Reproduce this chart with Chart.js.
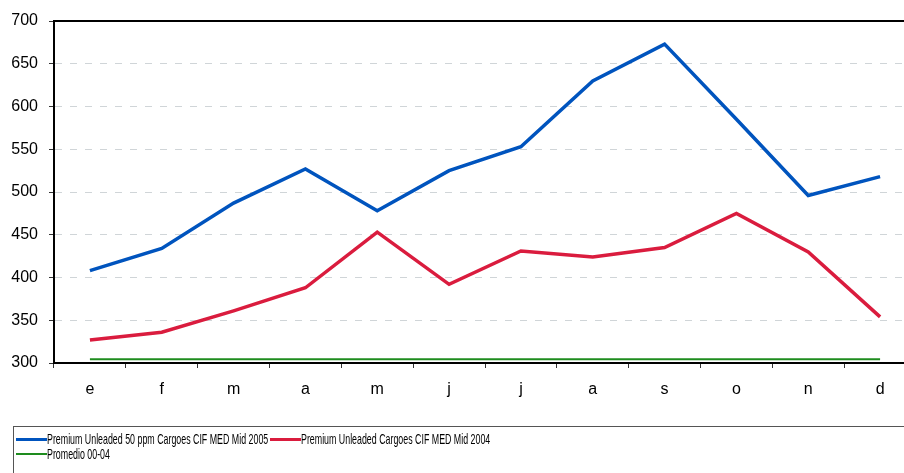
<!DOCTYPE html>
<html>
<head>
<meta charset="utf-8">
<script src="https://cdn.jsdelivr.net/npm/chart.js@4"></script>
<style>
  html, body { margin: 0; padding: 0; background: #fff; overflow: hidden; }
  #wrap { position: relative; width: 920px; height: 473px; }
  #legend {
    position: absolute; left: 13px; top: 426px; width: 900px; height: 60px;
    border: 1px solid #555; box-sizing: border-box;
    font-family: "Liberation Sans", Arial, sans-serif;
    font-size: 14.5px; color: #000;
  }
  .item { position: absolute; white-space: nowrap; line-height: 15px; }
  .item i { display: inline-block; width: 31px; vertical-align: middle; }
  .item b { display: inline-block; font-weight: normal; vertical-align: middle;
            transform: scaleX(0.61); transform-origin: 0 50%; }
</style>
</head>
<body>
<div id="wrap">
  <canvas id="chart" width="920" height="473"></canvas>
  <div id="legend"></div>
</div>
<script>
let categories = ['e', 'f', 'm', 'a', 'm', 'j', 'j', 'a', 's', 'o', 'n', 'd']
let unleaded_2005 = [408, 434, 487, 527, 478, 525, 553, 630, 673, 585, 496, 518]
let unleaded_2004 = [327, 336, 361, 388, 453, 392, 431, 424, 435, 475, 430, 354]
let promedio = [304.5, 304.5, 304.5, 304.5, 304.5, 304.5, 304.5, 304.5, 304.5, 304.5, 304.5, 304.5]
let y_ticks = [300, 350, 400, 450, 500, 550, 600, 650, 700]

let series_names = [
    'Premium Unleaded 50 ppm Cargoes CIF MED Mid 2005',
    'Premium Unleaded Cargoes CIF MED Mid 2004',
    'Promedio 00-04'
]
let colors = ['rgb(0, 84, 190)', 'rgb(218, 28, 62)', 'rgb(30, 140, 30)']
let widths = [3.5, 3.5, 2]

// top frame line of the plot area
let topLine = {
    id: 'topLine',
    afterDraw(chart) {
        let ctx = chart.ctx
        let a = chart.chartArea
        ctx.save()
        ctx.strokeStyle = '#000'
        ctx.lineWidth = 2
        ctx.beginPath()
        ctx.moveTo(a.left, a.top)
        ctx.lineTo(a.right + 10, a.top)
        ctx.stroke()
        ctx.restore()
    }
}

let chart = new Chart(document.getElementById('chart').getContext('2d'), {
    type: 'line',
    data: {
        labels: categories,
        datasets: [unleaded_2005, unleaded_2004, promedio].map((d, i) => ({
            label: series_names[i],
            data: d,
            borderColor: colors[i],
            backgroundColor: colors[i],
            borderWidth: widths[i],
            pointRadius: 0,
            tension: 0,
            fill: false
        }))
    },
    options: {
        responsive: false,
        animation: false,
        layout: { padding: { left: 0, right: 4, top: 21, bottom: 70 } },
        plugins: { legend: { display: false }, tooltip: { enabled: false } },
        scales: {
            x: {
                offset: true,
                afterFit: s => { s.height = 40 },
                grid: {
                    offset: true,
                    drawOnChartArea: false,
                    tickLength: 5,
                    tickColor: '#333',
                    tickWidth: 1
                },
                border: { color: '#000', width: 2 },
                ticks: {
                    color: '#000',
                    padding: 12,
                    maxRotation: 0,
                    autoSkip: false,
                    font: { family: 'Liberation Sans, Arial, sans-serif', size: 16 }
                }
            },
            y: {
                min: 300,
                max: 700,
                afterFit: s => { s.width = 54 },
                afterBuildTicks: s => { s.ticks = y_ticks.map(v => ({ value: v })) },
                grid: {
                    color: '#d0d5d8',
                    lineWidth: 1,
                    tickLength: 5,
                    tickColor: '#333',
                    tickBorderDash: [],
                    tickWidth: 1
                },
                border: { color: '#000', width: 2, dash: [7, 8] },
                ticks: {
                    color: '#000',
                    padding: 11,
                    font: { family: 'Liberation Sans, Arial, sans-serif', size: 16 }
                }
            }
        }
    },
    plugins: [topLine]
})

// legend box below the chart
let legend = document.getElementById('legend')
let positions = [[2, 4], [256, 4], [2, 19]]
series_names.forEach((name, i) => {
    let span = document.createElement('span')
    span.className = 'item'
    span.style.left = positions[i][0] + 'px'
    span.style.top = positions[i][1] + 'px'
    let sample = document.createElement('i')
    sample.style.borderTop = widths[i] + 'px solid ' + colors[i]
    span.appendChild(sample)
    let text = document.createElement('b')
    text.textContent = name
    span.appendChild(text)
    legend.appendChild(span)
})
</script>
</body>
</html>
